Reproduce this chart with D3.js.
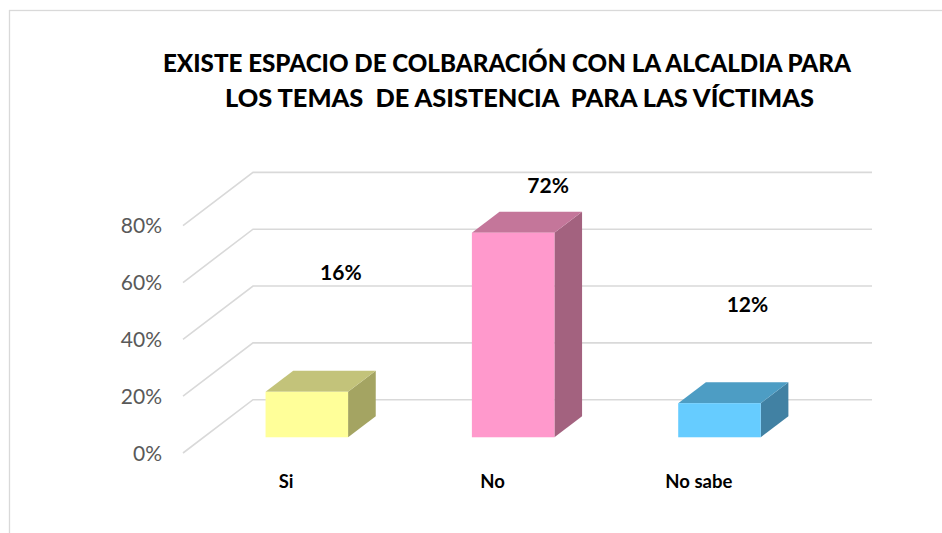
<!DOCTYPE html>
<html>
<head>
<meta charset="utf-8">
<script src="https://cdn.jsdelivr.net/npm/d3@7"></script>
<style>
  html, body { margin: 0; padding: 0; background: #fff; }
  svg { display: block; }
</style>
</head>
<body>
<svg id="chart" width="942" height="533"></svg>
<script>
// ---- data ----
const categories = ["Si", "No", "No sabe"];
const values = [0.16, 0.72, 0.12];
const valueLabels = ["16%", "72%", "12%"];
const tickValues = [0, 0.2, 0.4, 0.6, 0.8];
const titleLines = [
  "EXISTE ESPACIO DE COLBARACIÓN CON LA ALCALDIA PARA",
  "LOS TEMAS  DE ASISTENCIA  PARA LAS VÍCTIMAS"
];
const frontColors = ["#FFFF99", "#FF99CC", "#66CCFF"];
const topColors = ["#C3C37A", "#C4769A", "#4D9DC4"];
const sideColors = ["#A4A462", "#A3627F", "#4181A3"];

// ---- layout ----
const svg = d3.select("#chart");
const frontLeft = 183, frontRight = 802;
const depthX = 70, depthY = 53.3;      // wall depth offset
const barFrontT = 0.295, barDepthT = 0.395; // bar position within depth
const labelNudge = [[34, -112], [35, -39.5], [28, -91.6]];

const x = d3.scaleBand().domain(categories).range([frontLeft, frontRight])
  .paddingInner(0.6).paddingOuter(0.3);
const y = d3.scaleLinear().domain([0, 0.8]).range([453, 225.7]);

// border
svg.append("rect").attr("x", 9.5).attr("y", 10.5).attr("width", 1000).attr("height", 1000)
  .attr("fill", "none").attr("stroke", "#d9d9d9").attr("stroke-width", 1.3);

// title
const titleLayout = [{x: 163, y: 71.5, w: 688}, {x: 225, y: 106.5, w: 589}];
svg.append("g").selectAll("text").data(titleLines).join("text")
  .attr("x", (d, i) => titleLayout[i].x)
  .attr("y", (d, i) => titleLayout[i].y)
  .attr("textLength", (d, i) => titleLayout[i].w)
  .attr("lengthAdjust", "spacingAndGlyphs")
  .attr("font-family", "Lato, 'Open Sans', sans-serif")
  .attr("font-weight", "900")
  .attr("font-size", 25)
  .attr("fill", "#000")
  .style("white-space", "pre")
  .text(d => d);

// grid: left wall diagonals + back wall lines
const grid = svg.append("g").attr("stroke", "#d9d9d9").attr("stroke-width", 1.6).attr("fill", "none");
grid.selectAll("path").data(tickValues).join("path")
  .attr("d", v => `M${frontLeft},${y(v)} L${frontLeft + depthX},${y(v) - depthY} L${frontRight + depthX},${y(v) - depthY}`);

// y tick labels
svg.append("g").selectAll("text").data(tickValues).join("text")
  .attr("x", 162)
  .attr("y", v => y(v))
  .attr("dy", "0.36em")
  .attr("text-anchor", "end")
  .attr("font-family", "Lato, 'Open Sans', sans-serif")
  .attr("font-size", 21)
  .attr("fill", "#595959")
  .text(d3.format(".0%"));

// bars
const bw = x.bandwidth();
const fdx = depthX * barFrontT, fdy = depthY * barFrontT;
const bdx = depthX * barDepthT, bdy = depthY * barDepthT;
const bars = svg.append("g").selectAll("g").data(values).join("g");
bars.each(function(v, i) {
  const g = d3.select(this);
  const x0 = x(categories[i]) + fdx;
  const x1 = x0 + bw;
  const yb = y(0) - fdy;
  const yt = y(v) - fdy;
  g.append("path")
    .attr("d", `M${x1},${yt} L${x1 + bdx},${yt - bdy} L${x1 + bdx},${yb - bdy} L${x1},${yb} Z`)
    .attr("fill", sideColors[i]);
  g.append("path")
    .attr("d", `M${x0},${yt} L${x0 + bdx},${yt - bdy} L${x1 + bdx},${yt - bdy} L${x1},${yt} Z`)
    .attr("fill", topColors[i]);
  g.append("rect")
    .attr("x", x0).attr("y", yt).attr("width", bw).attr("height", yb - yt)
    .attr("fill", frontColors[i]);
});

// value labels
svg.append("g").selectAll("text").data(values).join("text")
  .attr("x", (v, i) => x(categories[i]) + bw / 2 + fdx + labelNudge[i][0])
  .attr("y", (v, i) => y(v) - fdy + labelNudge[i][1])
  .attr("text-anchor", "middle")
  .attr("font-family", "Lato, 'Open Sans', sans-serif")
  .attr("font-weight", "bold")
  .attr("font-size", 21)
  .attr("fill", "#000")
  .text((v, i) => valueLabels[i]);

// category labels
svg.append("g").selectAll("text").data(categories).join("text")
  .attr("x", d => x(d) + bw / 2)
  .attr("y", 488)
  .attr("text-anchor", "middle")
  .attr("font-family", "Lato, 'Open Sans', sans-serif")
  .attr("font-weight", "bold")
  .attr("font-size", 18.5)
  .attr("fill", "#000")
  .text(d => d);
</script>
</body>
</html>
